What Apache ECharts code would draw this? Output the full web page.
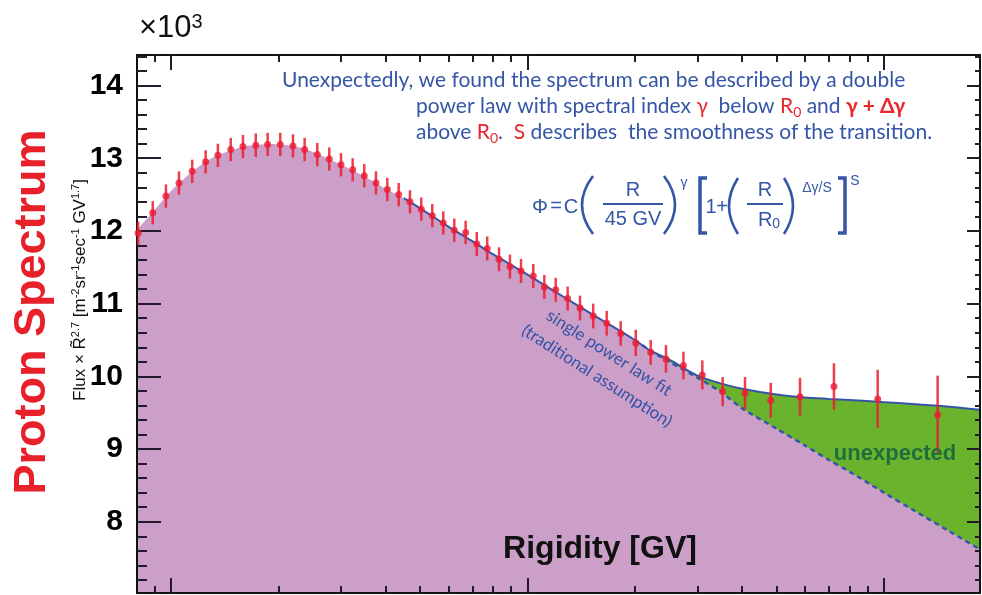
<!DOCTYPE html>
<html><head><meta charset="utf-8">
<script src="https://cdn.jsdelivr.net/npm/echarts@6/dist/echarts.min.js"></script>
<style>html,body{margin:0;padding:0;background:#fff;}#c{width:982px;height:595px;}</style>
</head><body><div id="c"></div>
<script>
// ---- data ----
const rigidity = [8.09, 8.89, 9.68, 10.53, 11.47, 12.51, 13.54, 14.71, 15.92, 17.29, 18.67, 20.26, 21.99, 23.71, 25.73, 27.80, 29.99, 32.34, 34.85, 37.58, 40.44, 43.52, 46.81, 50.36, 54.08, 58.05, 62.33, 67.07, 72.06, 77.1, 83.2, 89.3, 95.9, 103.8, 111.5, 120.0, 129.6, 140.4, 152.9, 166.8, 182.6, 201.2, 221.6, 244.6, 273.8, 309.3, 352.8, 407.5, 481.2, 581.3, 723.8, 960, 1414];
const fluxValues = [11.97, 12.25, 12.48, 12.66, 12.82, 12.95, 13.04, 13.12, 13.16, 13.18, 13.19, 13.19, 13.17, 13.12, 13.05, 12.99, 12.91, 12.84, 12.76, 12.66, 12.57, 12.50, 12.40, 12.30, 12.21, 12.11, 12.01, 11.98, 11.82, 11.76, 11.61, 11.51, 11.45, 11.38, 11.23, 11.19, 11.07, 10.94, 10.83, 10.73, 10.59, 10.46, 10.33, 10.24, 10.15, 10.02, 9.79, 9.77, 9.67, 9.72, 9.86, 9.69, 9.47];
const fluxErrors = [0.16, 0.16, 0.16, 0.16, 0.16, 0.16, 0.16, 0.16, 0.16, 0.16, 0.16, 0.16, 0.16, 0.16, 0.16, 0.16, 0.16, 0.16, 0.16, 0.16, 0.16, 0.16, 0.16, 0.16, 0.16, 0.16, 0.16, 0.16, 0.165, 0.165, 0.165, 0.165, 0.165, 0.165, 0.165, 0.165, 0.165, 0.17, 0.17, 0.17, 0.17, 0.18, 0.17, 0.19, 0.19, 0.20, 0.20, 0.22, 0.24, 0.26, 0.32, 0.40, 0.54];
const curveR = [8.03, 9, 10, 11, 12, 13, 14, 15, 16, 17, 18, 19, 20, 22, 24, 26, 28, 30, 33, 36, 40, 45, 50, 60, 70, 80, 100, 120, 150, 200, 220, 250, 300, 350, 400, 500, 600, 700, 800, 1000, 1200, 1500, 1859];
const singlePowerLaw = [12.01, 12.29, 12.55, 12.74, 12.89, 13.00, 13.07, 13.12, 13.16, 13.18, 13.19, 13.195, 13.19, 13.17, 13.12, 13.05, 12.98, 12.91, 12.81, 12.71, 12.58, 12.45, 12.31, 12.06, 11.86, 11.68, 11.40, 11.16, 10.87, 10.50, 10.36, 10.20, 9.98, 9.78, 9.56, 9.28, 9.05, 8.85, 8.69, 8.40, 8.17, 7.89, 7.62];
const doublePowerLaw = [null, null, null, null, null, null, null, null, null, null, null, null, null, null, null, null, null, null, null, null, null, 12.45, 12.31, 12.06, 11.86, 11.68, 11.40, 11.16, 10.87, 10.50, 10.36, 10.23, 10.01, 9.90, 9.83, 9.75, 9.71, 9.69, 9.675, 9.645, 9.62, 9.585, 9.54];
const dashedFromR = 180;
const xRange = [8.03, 1859];
const yRange = [7.02, 14.42];
const xMajorTicks = [10, 100, 1000];
const xMinorTicks = [9, 20, 30, 40, 50, 60, 70, 80, 90, 200, 300, 400, 500, 600, 700, 800, 900];
const yTickLabels = [8, 9, 10, 11, 12, 13, 14];
const yMajorTicks = [8, 9, 10, 11, 12, 13, 14];
const yMinorTicks = [7.2, 7.4, 7.6, 7.8, 8.2, 8.4, 8.6, 8.8, 9.2, 9.4, 9.6, 9.8, 10.2, 10.4, 10.6, 10.8, 11.2, 11.4, 11.6, 11.8, 12.2, 12.4, 12.6, 12.8, 13.2, 13.4, 13.6, 13.8, 14.2, 14.4];

// ---- chart ----
const LG = v => Math.log10(v);
const BLUE = '#3556a6', PURPLE = '#cc9fc8', GREEN = '#6ab42d', RED = 'rgba(236,28,48,0.85)';
const chart = echarts.init(document.getElementById('c'), null, {renderer: 'canvas'});

function xAx(pos, ticks, len, line) {
  return {type: 'value', position: pos, min: LG(xRange[0]), max: LG(xRange[1]), z: 5,
    axisLine: {show: line, onZero: false, lineStyle: {color: '#111', width: 2}},
    axisTick: {show: true, inside: true, length: len, customValues: ticks.map(LG), lineStyle: {color: '#241a2c', width: 2}},
    axisLabel: {show: false}, splitLine: {show: false}};
}
function yAx(pos, ticks, len, line, labels) {
  return {type: 'value', position: pos, min: yRange[0], max: yRange[1], z: 5,
    axisLine: {show: line, onZero: false, lineStyle: {color: '#111', width: 2}},
    axisTick: {show: true, inside: true, length: len, customValues: ticks, lineStyle: {color: '#241a2c', width: 2}},
    axisLabel: labels ? {show: true, customValues: yTickLabels, margin: 14, color: '#000', fontSize: 30, fontWeight: 'bold', fontFamily: 'Liberation Sans'} : {show: false},
    splitLine: {show: false}};
}

const basePts = curveR.map((r, i) => [LG(r), singlePowerLaw[i]]);
const dashPts = curveR.map((r, i) => [LG(r), singlePowerLaw[i]]).filter((p, i) => curveR[i] >= dashedFromR);
const fitPts = curveR.map((r, i) => [LG(r), doublePowerLaw[i]]).filter(p => p[1] !== null);
const pts = rigidity.map((r, i) => [LG(r), fluxValues[i], fluxErrors[i]]);

const T = (x, y, text, font, fill, extra) => Object.assign({type: 'text', x, y, z: 100,
  style: Object.assign({text, font, fill, textAlign: 'center', textVerticalAlign: 'middle'}, extra || {})});
const F = '20px "Liberation Sans"', FS = '14px "Liberation Sans"';
const paren = (x, y1, y2, bulge) => ({type: 'bezierCurve', z: 100, shape: {x1: x, y1: y1, x2: x, y2: y2, cpx1: x + 2 * bulge, cpy1: (y1 + y2) / 2}, style: {stroke: BLUE, lineWidth: 2.6, fill: null}});
const bracket = (x, y1, y2, w) => ({type: 'polyline', z: 100, shape: {points: [[x + w, y1], [x, y1], [x, y2], [x + w, y2]]}, style: {stroke: BLUE, lineWidth: 3.5, fill: null}});
const bar = (x1, x2, y) => ({type: 'line', z: 100, shape: {x1, y1: y, x2, y2: y}, style: {stroke: BLUE, lineWidth: 2}});

const AF = '21px Lato';
const annRich = {
  r: {fill: '#e8262c', font: AF},
  rs: {fill: '#e8262c', font: '14px Lato', verticalAlign: 'bottom', lineHeight: 13},
  rb: {fill: '#e8262c', font: 'bold ' + AF}
};
const annStyle = {textAlign: 'left', rich: annRich, lineHeight: 26};

const graphic = [
  T(139, 28, '{a|×10}{s|3}', '31px "Liberation Sans"', '#111', {textAlign: 'left', rich: {a: {font: '31px "Liberation Sans"', fill: '#111', lineHeight: 32}, s: {font: '20px "Liberation Sans"', fill: '#111', verticalAlign: 'top', lineHeight: 20}}}),
  Object.assign(T(33, 312, 'Proton Spectrum', 'bold 45px "Liberation Sans"', '#e8202a'), {rotation: Math.PI / 2}),
  Object.assign(T(80, 290, 'Flux × R\u0303{s|2.7} [m{s|-2}sr{s|-1}sec{s|-1} GV{s|1.7}]', '17px "Liberation Sans"', '#111',
    {rich: {s: {font: '11px "Liberation Sans"', fill: '#111', verticalAlign: 'top', lineHeight: 11}}, lineHeight: 20}), {rotation: Math.PI / 2}),
  T(282, 80, 'Unexpectedly, we found the spectrum can be described by a double', AF, BLUE, annStyle),
  T(416, 106, 'power law with spectral index {r|γ}  below {r|R}{rs|0} and {rb|γ + Δγ}', AF, BLUE, annStyle),
  T(416, 132, 'above {r|R}{rs|0}.  {r|S} describes  the smoothness of the transition.', AF, BLUE, annStyle),
  // formula
  T(540, 207, 'Φ', F, BLUE), T(556, 206, '=', F, BLUE), T(571, 207, 'C', F, BLUE),
  paren(593, 176, 234, -11),
  T(633, 190, 'R', F, BLUE), bar(603, 663, 204), T(633, 219, '45 GV', F, BLUE),
  paren(664, 176, 234, 11),
  T(684, 183, 'γ', FS, BLUE),
  bracket(700, 178, 233, 7),
  T(711, 207, '1', F, BLUE), T(722, 207, '+', F, BLUE),
  paren(738, 178, 234, -9),
  T(765, 190, 'R', F, BLUE), bar(747, 783, 204), T(769, 220, '{a|R}{b|0}', F, BLUE, {rich: {a: {font: F, fill: BLUE, lineHeight: 22}, b: {font: FS, fill: BLUE, verticalAlign: 'bottom', lineHeight: 14}}}),
  paren(784, 178, 234, 9),
  T(817, 188, 'Δγ/S', FS, BLUE),
  bracket(845, 178, 233, -7),
  T(855, 181, 'S', FS, BLUE),
  // other labels
  Object.assign(T(609, 353, 'single power law fit', '17px Lato', '#3452a4'), {rotation: -0.569}),
  Object.assign(T(597, 376, '(traditional assumption)', '17px Lato', '#3452a4'), {rotation: -0.569}),
  T(895, 454, 'unexpected', 'bold 22px "Liberation Sans"', '#1f6e3c'),
  T(600, 549, 'Rigidity [GV]', 'bold 32px "Liberation Sans"', '#111')
];

chart.setOption({
  animation: false,
  backgroundColor: '#fff',
  grid: {left: 137, right: 2, top: 55, bottom: 2, containLabel: false},
  xAxis: [xAx('bottom', xMajorTicks, 15, true), xAx('bottom', xMinorTicks, 7, false), xAx('top', xMajorTicks, 15, true), xAx('top', xMinorTicks, 7, false)],
  yAxis: [yAx('left', yMajorTicks, 24, true, true), yAx('left', yMinorTicks, 10, false, false), yAx('right', yMajorTicks, 13, true, false), yAx('right', yMinorTicks, 5, false, false)],
  series: [
    {type: 'line', name: 'double', z: 1, data: fitPts, smooth: 0.3, showSymbol: false, lineStyle: {width: 0, opacity: 0}, areaStyle: {color: GREEN, opacity: 1, origin: 'start'}},
    {type: 'line', name: 'base', z: 2, data: basePts, smooth: 0.3, showSymbol: false, lineStyle: {width: 0, opacity: 0}, areaStyle: {color: PURPLE, opacity: 1, origin: 'start'}},
    {type: 'line', name: 'single', z: 3, data: dashPts, smooth: 0.3, showSymbol: false, lineStyle: {color: BLUE, width: 2.5, type: [5, 4]}},
    {type: 'line', name: 'fit', z: 3, data: fitPts, smooth: 0.3, showSymbol: false, lineStyle: {color: BLUE, width: 2}},
    {type: 'custom', name: 'err', z: 6, data: pts, encode: {x: 0, y: 1},
      renderItem: (params, api) => {
        const x = api.value(0), y = api.value(1), e = api.value(2);
        const a = api.coord([x, y - e]), b = api.coord([x, y + e]);
        return {type: 'line', shape: {x1: a[0], y1: a[1], x2: b[0], y2: b[1]}, style: {stroke: RED, lineWidth: 2.5}};
      }},
    {type: 'scatter', name: 'points', z: 7, data: pts.map(p => [p[0], p[1]]), symbolSize: 7, itemStyle: {color: '#ec1c34'}}
  ],
  graphic: graphic
});
</script></body></html>
